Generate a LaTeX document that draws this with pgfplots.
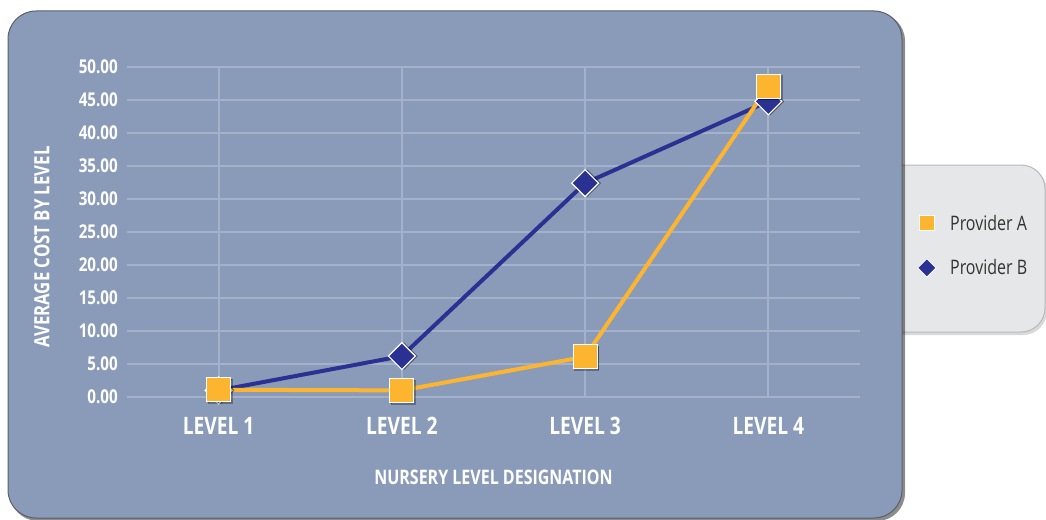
\documentclass[border=0pt]{standalone}
\usepackage{pgfplots}
\pgfplotsset{compat=1.18}
\usepackage{fontspec}
\setmainfont{Open Sans}[FakeStretch=0.8]
\definecolor{panel}{HTML}{8A9BB9}
\definecolor{gridc}{HTML}{A3B1CA}
\definecolor{blueB}{HTML}{2B3192}
\definecolor{orangeA}{HTML}{FDB52F}
\definecolor{legfill}{HTML}{E6E7E8}
\definecolor{legdraw}{HTML}{B8B9BB}
\definecolor{panelborder}{HTML}{5A5F66}
\begin{document}
\begin{tikzpicture}
\path[use as bounding box] (0pt,0pt) rectangle (1046pt,-519pt);
% legend box (behind the panel)
\fill[black,opacity=0.15,rounded corners=24pt] (882pt,-167pt) rectangle (1047pt,-335pt);
\draw[legdraw,fill=legfill,line width=1pt,rounded corners=24pt] (880pt,-165pt) rectangle (1045pt,-332pt);
% panel with shadow
\fill[black,opacity=0.45,rounded corners=28pt] (10pt,-13pt) rectangle (905pt,-521pt);
\draw[panelborder,fill=panel,line width=1pt,rounded corners=28pt] (8pt,-11pt) rectangle (902pt,-518pt);
\begin{axis}[
  at={(127pt,-397pt)}, anchor=south west,
  scale only axis, width=733pt, height=330pt,
  xmin=0.5, xmax=4.5, ymin=0, ymax=50,
  xtick={1,2,3,4},
  xticklabels={LEVEL 1,LEVEL 2,LEVEL 3,LEVEL 4},
  ytick={0,5,10,15,20,25,30,35,40,45,50},
  yticklabels={0.00,5.00,10.00,15.00,20.00,25.00,30.00,35.00,40.00,45.00,50.00},
  grid=major,
  major grid style={draw=gridc, line width=2pt},
  axis line style={draw=none},
  major tick length=0pt,
  clip=false,
  yticklabel style={font=\bfseries\fontsize{19}{21}\selectfont, text=white, anchor=east, inner sep=0pt, xshift=-9pt},
  xticklabel style={font=\bfseries\fontsize{24}{26}\selectfont, text=white, anchor=center, inner sep=0pt, yshift=-29pt},
  xlabel={NURSERY LEVEL DESIGNATION},
  xlabel style={font=\bfseries\fontsize{20}{22}\selectfont, text=white, at={(axis description cs:0.5,0)}, anchor=center, inner sep=0pt, yshift=-80pt},
  ylabel={AVERAGE COST BY LEVEL},
  ylabel style={font=\bfseries\fontsize{21}{23}\selectfont, text=white, at={(axis description cs:-0.116,0.4545)}, anchor=center, inner sep=0pt},
  legend style={at={(1.0785,0.459)}, anchor=west, draw=none, fill=none,
    font=\fontsize{20}{22}\selectfont, text=black!80, row sep=24pt, inner sep=0pt,
    /tikz/every odd column/.append style={column sep=12pt}},
  legend cell align=left,
]
% Provider B
\addplot[forget plot, draw=none, mark=square*, mark size=9.5pt,
  mark options={rotate=45, fill=black, draw=none, opacity=0.3, xshift=1.5pt, yshift=-1.5pt}]
  coordinates {(1,1.0) (2,6.2) (3,32.4) (4,44.8)};
\addplot[forget plot, blueB, line width=4pt, mark=square*, mark size=9.5pt,
  mark options={rotate=45, fill=blueB, draw=white, line width=1.2pt}]
  coordinates {(1,1.0) (2,6.2) (3,32.4) (4,44.8)};
% Provider A
\addplot[forget plot, draw=none, mark=square*, mark size=12pt,
  mark options={fill=black, draw=none, opacity=0.3, xshift=1.5pt, yshift=-1.5pt}]
  coordinates {(1,1.1) (2,1.0) (3,6.1) (4,47.1)};
\addplot[forget plot, orangeA, line width=4pt, mark=square*, mark size=12pt,
  mark options={fill=orangeA, draw=white, line width=1.2pt}]
  coordinates {(1,1.1) (2,1.0) (3,6.1) (4,47.1)};
\addlegendimage{only marks, mark=square*, mark size=7.5pt, mark options={fill=orangeA, draw=white, line width=0.8pt}}
\addlegendentry{Provider A}
\addlegendimage{only marks, mark=square*, mark size=6.5pt, mark options={rotate=45, fill=blueB, draw=white, line width=0.8pt}}
\addlegendentry{Provider B}
\end{axis}
\end{tikzpicture}
\end{document}
